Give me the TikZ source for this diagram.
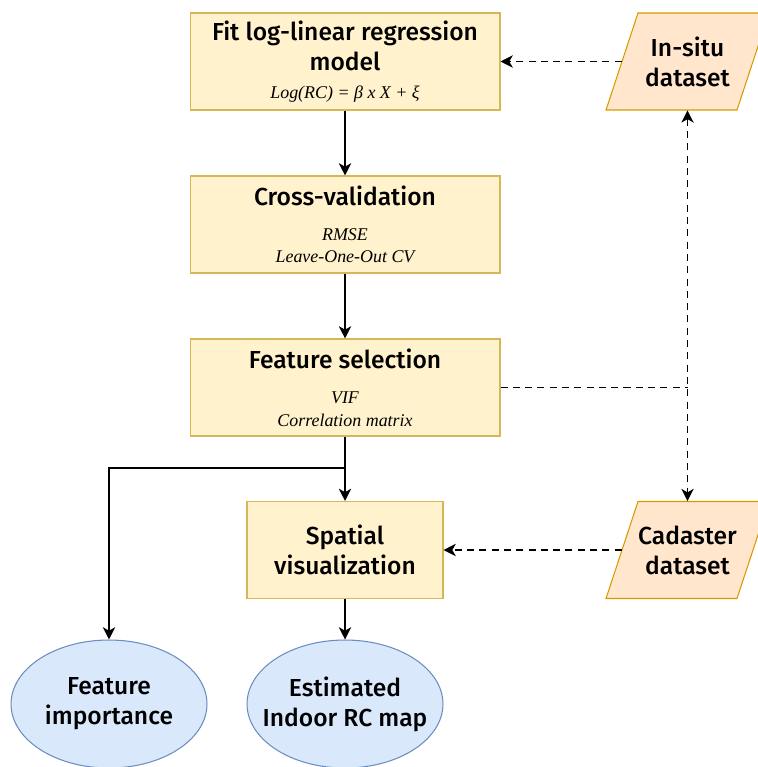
\documentclass[tikz,border=0pt]{standalone}
\usepackage{fontspec}
\setmainfont{Fira Sans Medium}
\newfontfamily\notefont{Liberation Serif}
\usepackage{xcolor}
\usetikzlibrary{arrows.meta,shapes.geometric}

\definecolor{stepfill}{HTML}{FFF2CC}
\definecolor{stepline}{HTML}{D6B656}
\definecolor{datafill}{HTML}{FFE6CC}
\definecolor{dataline}{HTML}{D79B00}
\definecolor{outfill}{HTML}{DAE8FC}
\definecolor{outline}{HTML}{6C8EBF}

\newcommand{\note}[1]{{\notefont\itshape\fontsize{10.2}{12}\selectfont #1}}

\tikzset{
	process/.style={draw=stepline, fill=stepfill, line width=0.6pt,
		minimum width=6.2cm, minimum height=1.94cm, align=center,
		font=\fontsize{14}{17}\selectfont},
	dataset/.style={minimum width=2.62cm, minimum height=1.94cm, align=center,
		font=\fontsize{14}{17}\selectfont},
	slanted/.style={draw=dataline, fill=datafill, line width=0.6pt},
	result/.style={ellipse, draw=outline, fill=outfill, line width=0.6pt,
		minimum width=3.92cm, minimum height=2.56cm, align=center,
		inner xsep=-18pt, inner ysep=0pt, font=\fontsize{14}{17}\selectfont},
	flow/.style={-{Stealth[length=7pt,width=7pt,inset=2pt]}, line width=0.8pt},
	feed/.style={flow, dash pattern=on 4pt off 3pt}
}

\begin{document}
\begin{tikzpicture}[x=0.02cm,y=-0.02cm]
	\useasboundingbox (0,0) rectangle (757,767);
	% nodes
	\node[process] (fit) at (345,61.5) {Fit log-linear regression\\model\\[-1pt]\note{Log(RC) = β x X + ξ}};
	\node[process] (cv) at (345,224.5) {Cross-validation\\[3pt]\note{RMSE}\\[-4.5pt]\note{Leave-One-Out CV}};
	\node[process] (fs) at (345,387.5) {Feature selection\\[3pt]\note{VIF}\\[-4pt]\note{Correlation matrix}};
	\node[process, minimum width=3.92cm] (sv) at (345,550) {Spatial\\visualization};
	\node[result] (fi) at (109,704) {Feature\\importance};
	\node[result] (map) at (345,704) {Estimated\\Indoor RC map};
	% data sets (parallelograms drawn round the text nodes)
	\foreach \ypos in {61.5,550}{
		\path[slanted] (606,\ypos+48.5) -- (638,\ypos-48.5) -- (769,\ypos-48.5)
			-- (737,\ypos+48.5) -- cycle;
	}
	\node[dataset] (insitu) at (687.5,61.5) {In-situ\\dataset};
	\node[dataset] (cadaster) at (687.5,550) {Cadaster\\dataset};
	\coordinate (split) at (345,468);
	\coordinate (join) at (fs.east -| insitu.south);
	%
	% main flow
	\draw[flow] (fit) -- (cv);
	\draw[flow] (cv) -- (fs);
	\draw[flow] (fs) -- (sv);
	\draw[flow] (fs.south) -- (split) -| (fi.north);
	\draw[flow] (sv) -- (map);
	% data inputs
	\draw[feed] (insitu.west) -- (fit.east);
	\draw[feed] (cadaster.west) -- (sv.east);
	\draw[feed, {Stealth[length=7pt,width=7pt,inset=2pt]}-{Stealth[length=7pt,width=7pt,inset=2pt]}] (insitu.south) -- (cadaster.north);
	\draw[line width=0.8pt, dash pattern=on 4pt off 3pt] (fs.east) -- (join);
\end{tikzpicture}
\end{document}
